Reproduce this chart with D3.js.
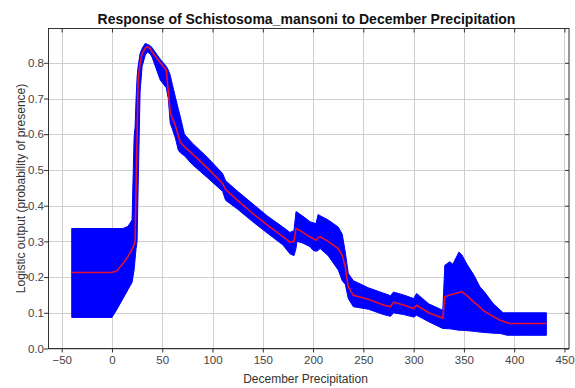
<!DOCTYPE html>
<html>
<head>
<meta charset="utf-8">
<script src="https://cdn.jsdelivr.net/npm/d3@7"></script>
<style>
  html, body { margin: 0; padding: 0; background: #ffffff; }
  svg { display: block; font-family: "Liberation Sans", Arial, sans-serif; }
</style>
</head>
<body>
<svg id="chart" width="575" height="388"></svg>
<script>
// December precipitation values where the response curve is sampled
const precip = [-40, 0, 5, 11, 16, 20, 22, 23, 24, 25, 26, 28, 30, 33, 35, 38, 40, 48, 54, 56, 58, 60, 63, 66, 68, 72, 80, 95, 110, 113, 125, 140, 155, 170, 177, 181, 183, 184, 190, 197, 200, 203, 205, 207, 215, 225, 229, 232, 235, 240, 255, 270, 277, 280, 290, 300, 303, 315, 329, 331, 336, 339, 345, 348, 353, 360, 366, 370, 379, 386, 389, 393, 396, 410, 432];
// Mean logistic output
const meanOut = [0.213, 0.213, 0.218, 0.238, 0.258, 0.278, 0.29, 0.30, 0.45, 0.60, 0.75, 0.80, 0.826, 0.84, 0.845, 0.84, 0.83, 0.80, 0.78, 0.72, 0.66, 0.645, 0.625, 0.595, 0.578, 0.565, 0.545, 0.505, 0.462, 0.445, 0.415, 0.378, 0.345, 0.313, 0.298, 0.30, 0.336, 0.335, 0.325, 0.312, 0.308, 0.303, 0.31, 0.313, 0.30, 0.28, 0.26, 0.229, 0.173, 0.149, 0.138, 0.122, 0.117, 0.13, 0.122, 0.112, 0.121, 0.10, 0.085, 0.145, 0.15, 0.152, 0.157, 0.159, 0.148, 0.13, 0.115, 0.105, 0.09, 0.079, 0.076, 0.072, 0.07, 0.07, 0.07];
// Mean minus one standard deviation
const lowerOut = [0.087, 0.087, 0.11, 0.14, 0.165, 0.185, 0.22, 0.25, 0.28, 0.30, 0.45, 0.72, 0.79, 0.82, 0.83, 0.825, 0.815, 0.752, 0.73, 0.70, 0.63, 0.615, 0.59, 0.555, 0.548, 0.54, 0.515, 0.478, 0.44, 0.415, 0.39, 0.355, 0.322, 0.29, 0.265, 0.26, 0.28, 0.30, 0.295, 0.285, 0.275, 0.272, 0.275, 0.28, 0.26, 0.22, 0.19, 0.18, 0.14, 0.117, 0.11, 0.095, 0.09, 0.10, 0.095, 0.088, 0.093, 0.075, 0.056, 0.056, 0.055, 0.054, 0.051, 0.051, 0.05, 0.048, 0.046, 0.045, 0.043, 0.042, 0.04, 0.037, 0.037, 0.037, 0.037];
// Mean plus one standard deviation
const upperOut = [0.336, 0.336, 0.336, 0.336, 0.342, 0.36, 0.59, 0.62, 0.70, 0.76, 0.79, 0.826, 0.84, 0.854, 0.852, 0.848, 0.842, 0.81, 0.79, 0.78, 0.765, 0.74, 0.705, 0.67, 0.649, 0.60, 0.575, 0.535, 0.49, 0.47, 0.44, 0.405, 0.37, 0.34, 0.325, 0.33, 0.383, 0.382, 0.37, 0.355, 0.352, 0.35, 0.375, 0.372, 0.36, 0.34, 0.32, 0.27, 0.21, 0.19, 0.17, 0.155, 0.148, 0.158, 0.15, 0.14, 0.154, 0.125, 0.107, 0.233, 0.243, 0.236, 0.27, 0.262, 0.236, 0.205, 0.172, 0.16, 0.126, 0.108, 0.10, 0.10, 0.10, 0.10, 0.10];

const xTicks = [-50, 0, 50, 100, 150, 200, 250, 300, 350, 400, 450];
const yTicks = [0.0, 0.1, 0.2, 0.3, 0.4, 0.5, 0.6, 0.7, 0.8];

const titleText = "Response of Schistosoma_mansoni to December Precipitation";
const xTitle = "December Precipitation";
const yTitle = "Logistic output (probability of presence)";

const svg = d3.select("#chart");
const plot = { left: 48, right: 569, top: 28.5, bottom: 348.5 };

const x = d3.scaleLinear().domain([-63.6, 454.5]).range([plot.left, plot.right]);
const y = d3.scaleLinear().domain([0, 0.896]).range([plot.bottom, plot.top]);

const rows = precip.map((p, i) => ({ p, m: meanOut[i], lo: lowerOut[i], hi: upperOut[i] }));

// Grid lines
const grid = svg.append("g").attr("stroke", "#cfcfcf").attr("stroke-width", 1);
grid.selectAll("line.gx").data(xTicks).join("line")
  .attr("x1", d => Math.round(x(d)) + 0.5).attr("x2", d => Math.round(x(d)) + 0.5)
  .attr("y1", plot.top).attr("y2", plot.bottom);
grid.selectAll("line.gy").data(yTicks).join("line")
  .attr("y1", d => Math.round(y(d)) + 0.5).attr("y2", d => Math.round(y(d)) + 0.5)
  .attr("x1", plot.left).attr("x2", plot.right);

// Standard-deviation band
const band = d3.area()
  .x(d => x(d.p))
  .y0(d => y(d.lo))
  .y1(d => y(d.hi));
svg.append("path").datum(rows)
  .attr("d", band)
  .attr("fill", "#0000ff")
  .attr("stroke", "#0000ff")
  .attr("stroke-width", 1);

// Mean response line
const line = d3.line().x(d => x(d.p)).y(d => y(d.m));
svg.append("path").datum(rows)
  .attr("d", line)
  .attr("fill", "none")
  .attr("stroke", "#e8102a")
  .attr("stroke-width", 1.6);

// Axes
const axisBottom = d3.axisBottom(x).tickValues(xTicks).tickSize(4).tickFormat(d3.format("d"));
const axisLeft = d3.axisLeft(y).tickValues(yTicks).tickSize(4).tickFormat(d3.format(".1f"));
const axisTop = d3.axisTop(x).tickValues(xTicks).tickSize(-4).tickFormat("");
const axisRight = d3.axisRight(y).tickValues(yTicks).tickSize(-4).tickFormat("");

function styleAxis(g) {
  g.select(".domain").remove();
  g.selectAll(".tick line").attr("stroke", "#333");
  g.selectAll(".tick text")
    .attr("fill", "#444")
    .style("font-family", "'Liberation Sans', Arial, sans-serif")
    .style("font-size", "11.5px");
}

svg.append("g").attr("transform", `translate(0,${plot.bottom})`).call(axisBottom).call(styleAxis)
  .selectAll(".tick text").attr("dy", "0.95em").attr("y", 5);
svg.append("g").attr("transform", `translate(${plot.left},0)`).call(axisLeft).call(styleAxis)
  .selectAll(".tick text").attr("x", -4);
svg.append("g").attr("transform", `translate(0,${plot.top})`).call(axisTop).call(styleAxis);
svg.append("g").attr("transform", `translate(${plot.right},0)`).call(axisRight).call(styleAxis);

// Plot frame
svg.append("rect")
  .attr("x", plot.left + 0.5).attr("y", plot.top)
  .attr("width", plot.right - plot.left - 0.5).attr("height", plot.bottom - plot.top)
  .attr("fill", "none").attr("stroke", "#333").attr("stroke-width", 1);

// Titles
svg.append("text")
  .attr("x", (plot.left + plot.right) / 2 - 2).attr("y", 24)
  .attr("text-anchor", "middle")
  .style("font-weight", "bold").style("font-size", "14px").attr("fill", "#111")
  .text(titleText);

svg.append("text")
  .attr("x", (plot.left + plot.right) / 2 - 3).attr("y", 383)
  .attr("text-anchor", "middle")
  .style("font-size", "12px").attr("fill", "#333")
  .text(xTitle);

svg.append("text")
  .attr("transform", `translate(25,${(plot.top + plot.bottom) / 2}) rotate(-90)`)
  .attr("text-anchor", "middle")
  .style("font-size", "12px").attr("fill", "#333")
  .text(yTitle);
</script>
</body>
</html>
